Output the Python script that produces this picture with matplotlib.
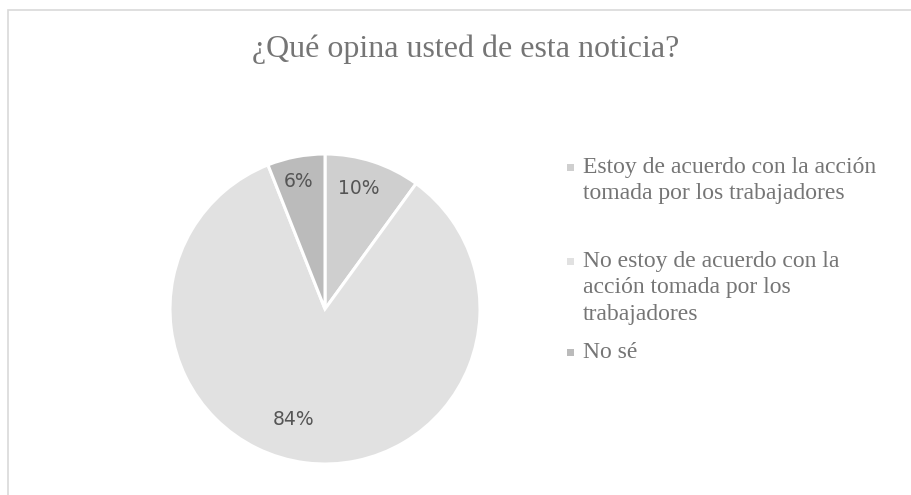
import matplotlib
matplotlib.use("Agg")
import matplotlib.pyplot as plt
from matplotlib.patches import Rectangle

# Chart data
title = "¿Qué opina usted de esta noticia?"
labels = [
    "Estoy de acuerdo con la acción\ntomada por los trabajadores",
    "No estoy de acuerdo con la\nacción tomada por los\ntrabajadores",
    "No sé",
]
values = [10, 84, 6]
colors = ["#CFCFCF", "#E1E1E1", "#BBBBBB"]

W, H = 912, 495
fig = plt.figure(figsize=(W / 100, H / 100), dpi=100)
fig.patch.set_facecolor("white")

# chart-area border (runs off the right/bottom edges like the source)
fig.add_artist(Rectangle((8 / W, -0.1), 1.1, 1 - 10 / H + 0.1,
                         transform=fig.transFigure, fill=False,
                         edgecolor="#D9D9D9", linewidth=1.2))

fig.text(466 / W, 1 - 57 / H, title, ha="center", va="baseline",
         family="Liberation Serif", fontsize=23, color="#757575")

# pie: centre (325, 309), radius 155 px
ax = fig.add_axes([170 / W, 1 - 464 / H, 310 / W, 310 / H])
wedges, texts, autotexts = ax.pie(
    values, colors=colors, startangle=90, counterclock=False,
    autopct="%d%%", pctdistance=0.82,
    wedgeprops=dict(edgecolor="white", linewidth=2.2),
    textprops=dict(fontsize=13.5, color="#555555", family="DejaVu Sans"))
ax.set_xlim(-1, 1)
ax.set_ylim(-1, 1)
ax.set_aspect("equal")
ax.axis("off")

# nudge labels to where the source puts them
label_pos = [(0.215, 0.78), (-0.205, -0.715), (-0.17, 0.82)]
for t, p in zip(autotexts, label_pos):
    t.set_position(p)
    t.set_ha("center")
    t.set_va("center")

# legend drawn by hand, one text per line
item_top = [173, 267, 358]   # baseline of first line of each entry (px)
line_h = 26.5
for lab, col, y0 in zip(labels, colors, item_top):
    fig.add_artist(Rectangle((567 / W, 1 - (y0 - 2) / H), 7 / W, 7 / H,
                             transform=fig.transFigure, facecolor=col,
                             edgecolor="none"))
    for i, line in enumerate(lab.split("\n")):
        fig.text(583 / W, 1 - (y0 + i * line_h) / H, line, ha="left",
                 va="baseline", family="Liberation Serif", fontsize=17,
                 color="#757575")

fig.savefig("out.png", dpi=100, facecolor="white")
